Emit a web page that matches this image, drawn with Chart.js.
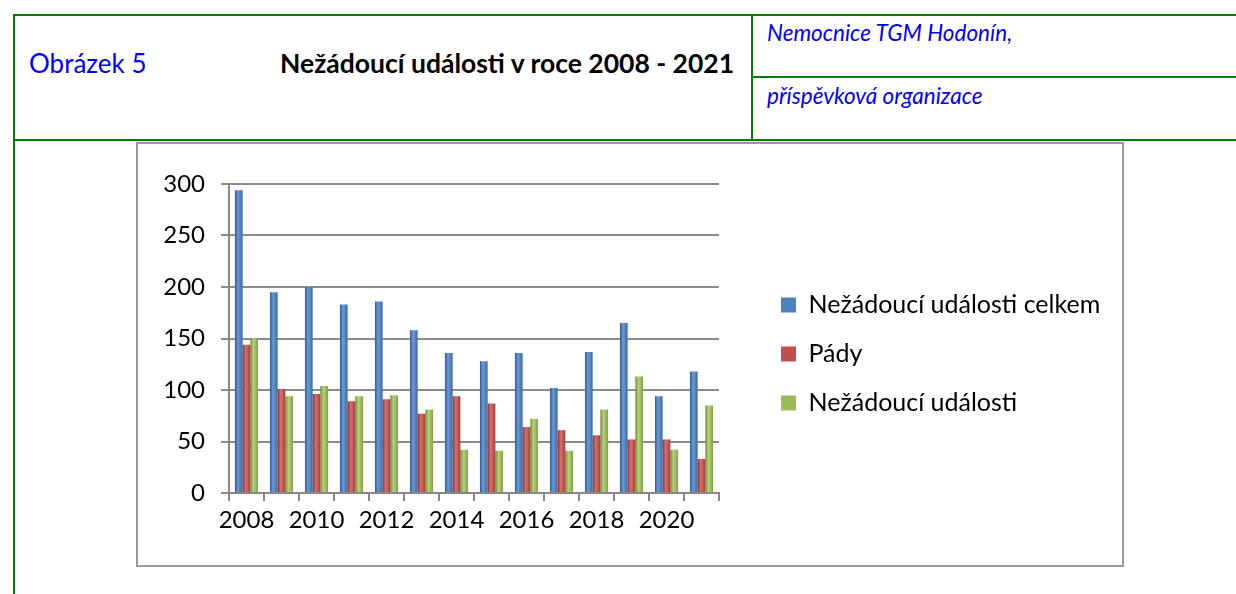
<!DOCTYPE html>
<html>
<head>
<meta charset="utf-8">
<script src="https://cdn.jsdelivr.net/npm/chart.js@4"></script>
<style>
  body { margin: 0; background: #fff; font-family: Lato, sans-serif; }
  .ln { position: absolute; background: #008000; }
  .txt { position: absolute; white-space: nowrap; line-height: 1; }
  #box { position: absolute; left: 136px; top: 142px; width: 988px; height: 425px; border: 2px solid #999; box-sizing: border-box; }
  #wrap { position: absolute; left: 138px; top: 144px; width: 984px; height: 421px; }
</style>
</head>
<body>
<div class="ln" style="left:13px;top:14px;width:1223px;height:2px"></div>
<div class="ln" style="left:13px;top:14px;width:2px;height:580px"></div>
<div class="ln" style="left:751px;top:14px;width:2px;height:126px"></div>
<div class="ln" style="left:751px;top:76px;width:485px;height:2px"></div>
<div class="ln" style="left:13px;top:139px;width:1223px;height:2px"></div>

<div class="txt" style="left:29px;top:50px;font-size:26px;color:#0000ff">Obrázek 5</div>
<div class="txt" style="left:280px;top:50px;font-size:26.5px;font-weight:bold;color:#000">Nežádoucí události v roce 2008 - 2021</div>
<div class="txt" style="left:767px;top:22px;font-size:22.5px;font-style:italic;color:#0000ff">Nemocnice TGM Hodonín,</div>
<div class="txt" style="left:767px;top:85px;font-size:22.5px;font-style:italic;color:#0000ff">příspěvková organizace</div>

<div id="box"></div>
<div id="wrap"><canvas id="myChart" width="984" height="421"></canvas></div>

<script>
const years = ['2008', '2009', '2010', '2011', '2012', '2013', '2014',
    '2015', '2016', '2017', '2018', '2019', '2020', '2021'];

const celkem = [294, 195, 200, 183, 186, 158, 136, 128, 136, 102, 137, 165, 94, 118];
const pady = [144, 101, 96, 89, 91, 77, 94, 87, 64, 61, 56, 52, 52, 33];
const ostatni = [150, 94, 104, 94, 95, 81, 42, 41, 72, 41, 81, 113, 42, 85];

const yTicks = [0, 50, 100, 150, 200, 250, 300];

const shades = [
    ['#2f5a8f', '#6a9ad6', '#3c6aa3'],
    ['#8f302d', '#d9706c', '#a43e3b'],
    ['#6f8a34', '#b5d47a', '#83a145']
];

// legend sits further right than chart.js would put it
const legendFix = {
    id: 'legendFix',
    afterInit(chart) {
        const lg = chart.legend;
        const fit = lg.fit.bind(lg);
        lg.fit = function () { fit(); this.width = 403; };
    },
    afterLayout(chart) {
        const lg = chart.legend;
        lg.left += 38;
        lg.right = 984;
        lg.top = 0;
        lg.bottom = 420;
    }
};

// round-ish shading on each bar, like the office 3D column
const barShade = {
    id: 'barShade',
    beforeDatasetsDraw(chart) {
        const ctx = chart.ctx;
        chart.data.datasets.forEach((ds, di) => {
            chart.getDatasetMeta(di).data.forEach(el => {
                const half = el.width / 2;
                const g = ctx.createLinearGradient(el.x - half, 0, el.x + half, 0);
                g.addColorStop(0, shades[di][0]);
                g.addColorStop(0.4, shades[di][1]);
                g.addColorStop(1, shades[di][2]);
                el.options = Object.assign({}, el.options, { backgroundColor: g });
            });
        });
    }
};

const data = {
    labels: years,
    datasets: [{
        label: 'Nežádoucí události celkem',
        data: celkem,
        backgroundColor: '#4f81bd',
        borderColor: '#3a6496',
        borderWidth: 0,
    }, {
        label: 'Pády',
        data: pady,
        backgroundColor: '#c0504d',
        borderColor: '#983c39',
        borderWidth: 0,
    }, {
        label: 'Nežádoucí události',
        data: ostatni,
        backgroundColor: '#9bbb59',
        borderColor: '#789440',
        borderWidth: 0,
    }]
};

const config = {
    type: 'bar',
    data: data,
    plugins: [legendFix, barShade],
    options: {
        responsive: false,
        animation: false,
        devicePixelRatio: 1,
        datasets: { bar: { barPercentage: 1, categoryPercentage: 0.66 } },
        layout: { padding: { top: 40, left: 0, right: 0, bottom: 0 } },
        plugins: {
            tooltip: { enabled: false },
            legend: {
                position: 'right',
                labels: {
                    boxWidth: 15,
                    boxHeight: 15,
                    padding: 24,
                    color: '#000',
                    font: { family: 'Lato', size: 25 }
                }
            }
        },
        scales: {
            x: {
                afterFit(s) { s.height = 72; },
                grid: {
                    offset: true,
                    drawOnChartArea: false,
                    tickLength: 8,
                    color: '#888',
                    lineWidth: 2
                },
                border: { color: '#888', width: 2 },
                ticks: {
                    autoSkip: false,
                    maxRotation: 0,
                    padding: 5,
                    color: '#000',
                    font: { family: 'Lato', size: 24 },
                    callback: (v, i) => (i % 2 === 0 ? years[i] : '')
                }
            },
            y: {
                min: 0,
                max: 300,
                afterFit(s) { s.width = 91; },
                afterBuildTicks(s) { s.ticks = yTicks.map(v => ({ value: v })); },
                grid: { color: '#8c8c8c', lineWidth: 2, tickLength: 8 },
                border: { color: '#888', width: 2 },
                ticks: {
                    padding: 16,
                    color: '#000',
                    font: { family: 'Lato', size: 24 }
                }
            }
        }
    }
};

new Chart(document.getElementById('myChart'), config);
</script>
</body>
</html>
